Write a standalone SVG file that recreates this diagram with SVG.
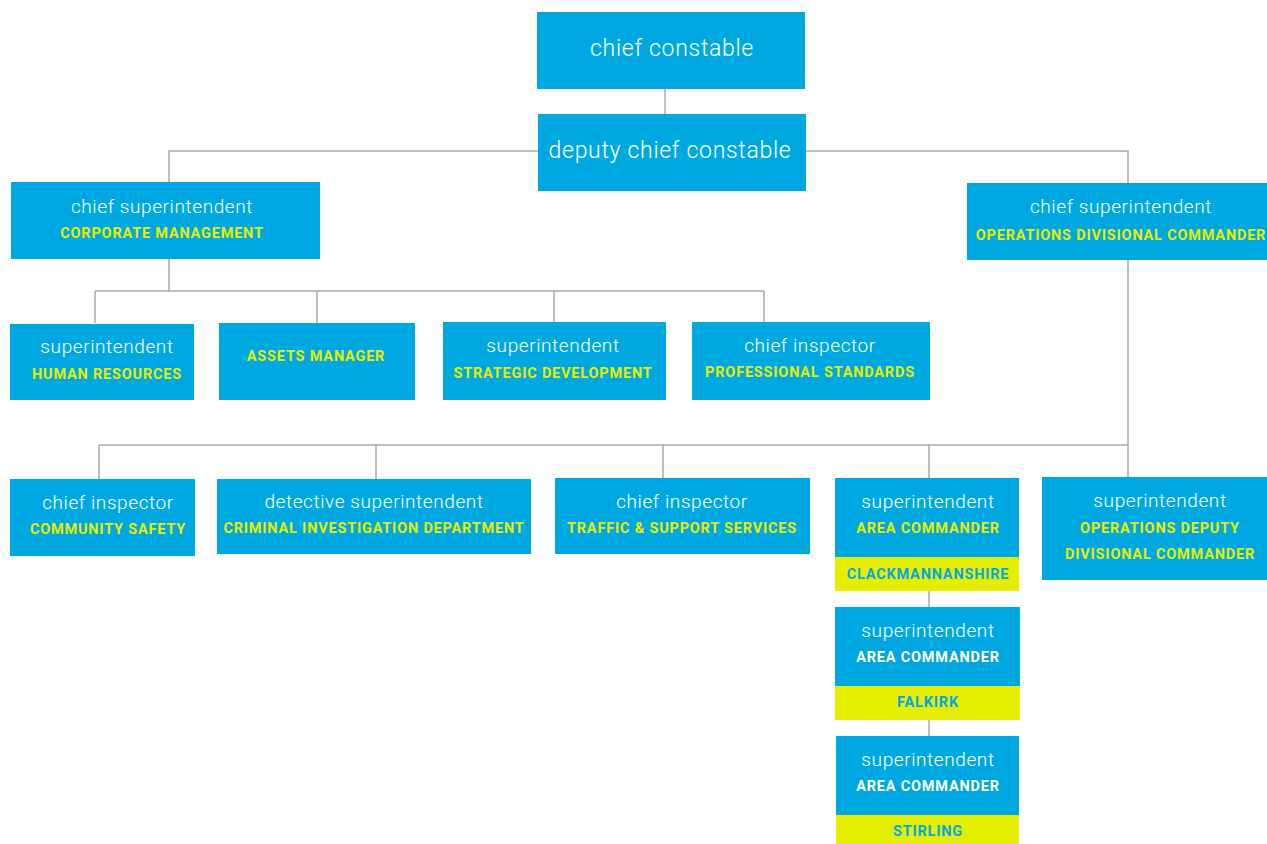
<svg xmlns="http://www.w3.org/2000/svg" width="1267" height="844" viewBox="0 0 1267 844">
<style>
.box{fill:#00A8E2}
.band{fill:#E6EE00}
.big{font-family:Roboto,"Liberation Sans",sans-serif;font-weight:300;font-size:23px;letter-spacing:0.7px;fill:#fff;text-anchor:middle}
.t{font-family:Roboto,"Liberation Sans",sans-serif;font-weight:300;font-size:19px;letter-spacing:0.6px;fill:#fff;text-anchor:middle}
.s{font-family:Roboto,"Liberation Sans",sans-serif;font-weight:700;font-size:14.5px;letter-spacing:0.8px;fill:#E6EE00;text-anchor:middle}
.w{fill:#fff}
.b{fill:#00A8E2}
.c{stroke:#ABABAB;stroke-width:1.5;fill:none}
</style>
<rect width="1267" height="844" fill="#fff"/>
<g id="connectors" class="c">
<path d="M665 89V114"/>
<path d="M538 151H169V182M806 151H1128V183"/>
<path d="M169 259V291M95 291H764M95 291V323M317 291V323M554 291V322M764 291V322"/>
<path d="M1128 260V477M99 445H1128M99 445V479M376 445V479M663 445V478M929 445V478"/>
<path d="M929 591V607M929 720V736"/>
</g>
<g id="chief-constable"><rect class="box" x="537" y="12" width="268" height="77"/><text class="big" x="672" y="56">chief constable</text></g>
<g id="deputy-chief-constable"><rect class="box" x="538" y="114" width="268" height="77"/><text class="big" x="670" y="158">deputy chief constable</text></g>
<g id="corporate-management"><rect class="box" x="11" y="182" width="309" height="77"/><text class="t" x="162" y="213">chief superintendent</text><text class="s" x="162" y="238">CORPORATE MANAGEMENT</text></g>
<g id="operations-divisional"><rect class="box" x="967" y="183" width="300" height="77"/><text class="t" x="1121" y="213">chief superintendent</text><text class="s" x="1121" y="240">OPERATIONS DIVISIONAL COMMANDER</text></g>
<g id="human-resources"><rect class="box" x="10" y="324" width="184" height="76"/><text class="t" x="107" y="353">superintendent</text><text class="s" x="107" y="379">HUMAN RESOURCES</text></g>
<g id="assets-manager"><rect class="box" x="219" y="323" width="196" height="77"/><text class="s" x="316" y="361">ASSETS MANAGER</text></g>
<g id="strategic-development"><rect class="box" x="443" y="322" width="223" height="78"/><text class="t" x="553" y="352">superintendent</text><text class="s" x="553" y="378">STRATEGIC DEVELOPMENT</text></g>
<g id="professional-standards"><rect class="box" x="692" y="322" width="238" height="78"/><text class="t" x="810" y="352">chief inspector</text><text class="s" x="810" y="377">PROFESSIONAL STANDARDS</text></g>
<g id="community-safety"><rect class="box" x="10" y="479" width="185" height="77"/><text class="t" x="108" y="509">chief inspector</text><text class="s" x="108" y="534">COMMUNITY SAFETY</text></g>
<g id="cid"><rect class="box" x="217" y="479" width="314" height="75"/><text class="t" x="374" y="508">detective superintendent</text><text class="s" x="374" y="533">CRIMINAL INVESTIGATION DEPARTMENT</text></g>
<g id="traffic"><rect class="box" x="555" y="478" width="255" height="76"/><text class="t" x="682" y="508">chief inspector</text><text class="s" x="682" y="533">TRAFFIC &amp; SUPPORT SERVICES</text></g>
<g id="clackmannanshire"><rect class="box" x="835" y="478" width="184" height="79"/><rect class="band" x="835" y="557" width="184" height="34"/><text class="t" x="928" y="508">superintendent</text><text class="s" x="928" y="533">AREA COMMANDER</text><text class="s b" x="928" y="579">CLACKMANNANSHIRE</text></g>
<g id="operations-deputy"><rect class="box" x="1042" y="477" width="225" height="103"/><text class="t" x="1160" y="507">superintendent</text><text class="s" x="1160" y="533">OPERATIONS DEPUTY</text><text class="s" x="1160" y="559">DIVISIONAL COMMANDER</text></g>
<g id="falkirk"><rect class="box" x="835" y="607" width="185" height="79"/><rect class="band" x="835" y="686" width="185" height="34"/><text class="t" x="928" y="637">superintendent</text><text class="s w" x="928" y="662">AREA COMMANDER</text><text class="s b" x="928" y="707">FALKIRK</text></g>
<g id="stirling"><rect class="box" x="836" y="736" width="183" height="79"/><rect class="band" x="836" y="815" width="183" height="29"/><text class="t" x="928" y="766">superintendent</text><text class="s w" x="928" y="791">AREA COMMANDER</text><text class="s b" x="928" y="836">STIRLING</text></g>
</svg>
